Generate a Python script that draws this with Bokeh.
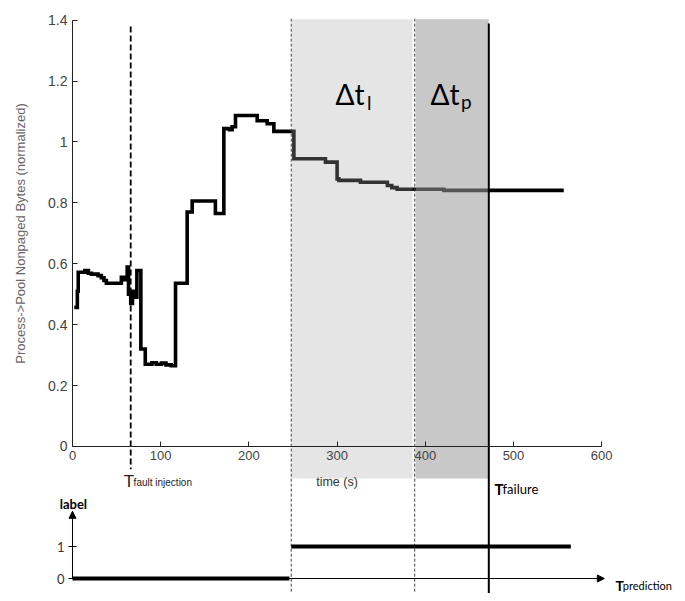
from bokeh.plotting import figure
from bokeh.models import Range1d, LinearAxis, FixedTicker, Label, Arrow, NormalHead, ColumnDataSource
from bokeh.embed import file_html
from bokeh.resources import INLINE

# ---------------- data ----------------
time_s = [2, 5.5, 6.5, 14, 18, 21.5, 29, 32.7, 35.7, 38.4, 55.4, 59, 62, 63.5, 66, 68, 70,
          73, 77.5, 82.5, 90, 95, 101, 106, 112, 116.8, 130, 135.7, 162, 171.6, 178, 181,
          184.8, 209.4, 220.7, 228.3, 251, 286.8, 300, 302, 326.5, 357, 362, 368, 421, 557]
bytes_norm = [0.457, 0.51, 0.572, 0.578, 0.569, 0.566, 0.561, 0.554, 0.545, 0.536, 0.556,
              0.548, 0.589, 0.50, 0.47, 0.51, 0.49, 0.578, 0.32, 0.27, 0.275, 0.27, 0.274,
              0.268, 0.265, 0.536, 0.77, 0.806, 0.765, 1.044, 1.04, 1.05, 1.087, 1.07,
              1.06, 1.035, 0.945, 0.934, 0.879, 0.874, 0.868, 0.857, 0.85, 0.845, 0.841, 0.841]

time_ticks = [0, 100, 200, 300, 400, 500, 600]
value_ticks = [0, 0.2, 0.4, 0.6, 0.8, 1.0, 1.2, 1.4]

t_fault = 66        # fault injection
t_label = 248       # label switches to 1
t_lead = 388        # end of lead-time window
t_failure = 472     # failure

label_start = [0, 248]
label_end = [246, 565]
label_value = [0, 1]
label_ticks = [0, 1]

# ---------------- figure ----------------
W, H = 677, 593
p = figure(width=W, height=H, output_backend="svg", toolbar_location=None,
           x_range=Range1d(-81.63, 685.94), y_range=Range1d(-0.4828, 1.4647),
           x_axis_type=None, y_axis_type=None, min_border=0)
p.outline_line_color = None
p.background_fill_color = "white"
p.extra_y_ranges = {"label": Range1d(-0.46875, 18.0625)}

AX_FONT = "Liberation Sans"

# main step series
src = ColumnDataSource(dict(t=time_s, v=bytes_norm))
p.step("t", "v", source=src, mode="after", line_width=3.6, line_color="black", line_join="miter")

# shaded windows (drawn above line, semi-transparent)
p.quad(left=[t_label + 0.3], right=[t_lead - 2.5], top=[1.403], bottom=[-0.105],
       fill_color="#a8a8a8", fill_alpha=0.3, line_color=None)
p.quad(left=[t_lead + 1], right=[t_failure], top=[1.403], bottom=[-0.105],
       fill_color="#9a9a9a", fill_alpha=0.55, line_color=None)

# vertical markers
p.segment(x0=[t_fault], y0=[1.379], x1=[t_fault], y1=[-0.075],
          line_color="black", line_width=1.8, line_dash="6 3")
p.segment(x0=[t_label, t_lead], y0=[1.405, 1.405], x1=[t_label, t_lead], y1=[-0.5, -0.5],
          line_color="#444444", line_width=1, line_dash="3 2")
p.segment(x0=[t_failure], y0=[1.389], x1=[t_failure], y1=[-0.52],
          line_color="black", line_width=2)

# top axes
xaxis = LinearAxis(fixed_location=0, bounds=(0, 600), ticker=FixedTicker(ticks=time_ticks),
                   axis_label="time (s)", axis_label_standoff=11,
                   major_tick_in=5, major_tick_out=0, minor_tick_line_color=None,
                   axis_line_color="#222222", major_tick_line_color="#222222",
                   major_label_text_font=AX_FONT, major_label_text_font_size="13px",
                   major_label_text_color="#444444", major_label_standoff=5,
                   axis_label_text_font=AX_FONT, axis_label_text_font_size="12.5px",
                   axis_label_text_font_style="normal", axis_label_text_color="#333333")
p.add_layout(xaxis, "below")

yaxis = LinearAxis(fixed_location=0, bounds=(0, 1.4), ticker=FixedTicker(ticks=value_ticks),
                   axis_label="Process->Pool Nonpaged Bytes (normalized)", axis_label_standoff=17,
                   major_tick_in=5, major_tick_out=0, minor_tick_line_color=None,
                   axis_line_color="#222222", major_tick_line_color="#222222",
                   major_label_text_font=AX_FONT, major_label_text_font_size="14px",
                   major_label_text_color="#444444", major_label_standoff=5,
                   axis_label_text_font=AX_FONT, axis_label_text_font_size="13px",
                   axis_label_text_font_style="normal", axis_label_text_color="#666666")
p.add_layout(yaxis, "left")

# bottom label chart
p.segment(x0=label_start, y0=label_value, x1=label_end, y1=label_value,
          y_range_name="label", line_color="black", line_width=4)
p.add_layout(Arrow(x_start=0, y_start=0, x_end=603, y_end=0, y_range_name="label",
                   line_color="black", line_width=1,
                   end=NormalHead(size=7, fill_color="black", line_color="black")))
p.add_layout(Arrow(x_start=0, y_start=0, x_end=0, y_end=2.1, y_range_name="label",
                   line_color="black", line_width=1,
                   end=NormalHead(size=7, fill_color="black", line_color="black")))
laxis = LinearAxis(fixed_location=0, y_range_name="label", bounds=(0, 2),
                   ticker=FixedTicker(ticks=label_ticks), axis_line_color=None,
                   major_tick_in=4, major_tick_out=4, minor_tick_line_color=None,
                   major_tick_line_color="black", major_label_standoff=4,
                   major_label_text_font="Lato", major_label_text_font_size="13px",
                   major_label_text_color="#333333")
p.add_layout(laxis, "left")

# texts
def lab(x, y, text, size, font="Lato", style="normal", rng="default", color="black", align="left"):
    p.add_layout(Label(x=x, y=y, text=text, y_range_name=rng, text_font=font,
                       text_font_size=size, text_font_style=style, text_color=color,
                       text_align=align, text_baseline="alphabetic"))

lab(298.2, 1.159, "Δt", "28px")
lab(333.8, 1.130, "l", "19px")
lab(405.9, 1.159, "Δt", "28px")
lab(440.5, 1.133, "p", "19px")

lab(58.0, -0.115, "T", "17px", font=AX_FONT, color="#222222")
lab(69.3, -0.118, "fault injection", "10px", font=AX_FONT, color="#222222")

lab(478.5, 2.80, "T", "15px", style="bold", rng="label")
lab(487.6, 2.80, "failure", "13px", rng="label")
lab(615.6, -0.22, "T", "14px", style="bold", rng="label")
lab(624.0, -0.22, "prediction", "11px", rng="label")
lab(1.0, 2.33, "label", "13px", style="bold", rng="label", align="center")

open("out.html", "w").write(file_html(p, INLINE))
